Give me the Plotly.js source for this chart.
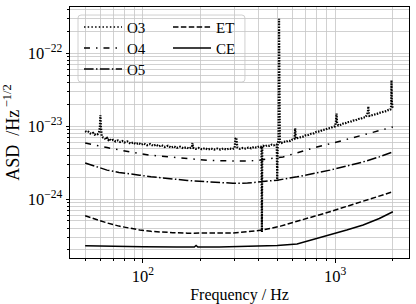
<!DOCTYPE html>
<html>
<head>
<meta charset="utf-8">
<script src="https://cdn.plot.ly/plotly-3.0.1.min.js"></script>
<style>html,body{margin:0;padding:0;background:#fff;}#chart{width:416px;height:304px;}</style>
</head>
<body>
<div id="chart"></div>
<script>
// ---- data (ASD values; O3/O4/O5 in units of 1e-24, ET/CE in units of 1e-25) ----
const o3Freq = [50,51,52,53,54,55,56,57,58,59,59.6,60,60.4,61,62,63,64,65,66,67,68,70,72,74,76,78,80,83,86,89,92,95,98,101,105,109,113,117,121,125,130,135,140,145,150,156,162,168,174,180,181,182,188,195,202,210,218,226,235,244,253,262,272,282,292,300,303,306,310,320,331,342,354,366,378,390,402,410,414,416,418,422,432,444,456,468,480,490,497,500,503,508,511,513,516,525,540,555,570,585,600,615,620,625,640,660,680,700,725,750,775,800,830,860,890,920,950,980,1000,1010,1018,1025,1040,1070,1100,1130,1160,1200,1240,1280,1320,1360,1400,1440,1470,1485,1490,1495,1510,1550,1600,1650,1700,1750,1800,1850,1900,1940,1960,1967,1975,1990,2000];
const o3Asd = [8.6,8.3,8.4,8.0,7.9,8.1,7.7,7.9,7.8,8.2,9.5,14.2,9.8,7.3,7.0,6.9,6.6,6.9,6.5,6.8,6.4,6.5,6.2,6.4,6.1,6.3,6.0,6.2,5.8,6.0,5.7,5.9,5.6,5.8,5.5,5.7,5.4,5.6,5.3,5.5,5.2,5.4,5.1,5.3,5.05,5.25,5.0,5.15,4.95,5.2,5.9,5.1,4.9,5.05,4.85,5.0,4.8,4.95,4.8,4.95,4.8,4.95,4.8,4.95,4.85,5.0,6.8,7.0,5.1,4.9,5.05,4.95,5.1,5.0,5.2,5.1,5.3,5.2,5.3,0.353,5.3,5.4,5.3,5.5,5.4,5.6,5.5,5.7,5.6,1.77,5.8,6.5,300,7.5,6.0,5.9,6.15,6.1,6.35,6.3,6.6,6.7,9.4,6.8,6.9,7.1,7.2,7.5,7.6,7.9,8.0,8.4,8.5,8.9,9.0,9.4,9.5,9.9,10.0,11.5,15.0,11.0,10.3,10.5,10.9,11.0,11.4,11.5,12.0,12.1,12.6,12.7,13.2,13.3,14.5,16.5,18.8,15.5,13.9,14.1,14.6,14.8,15.3,15.5,16.0,16.2,16.8,17.0,19.0,43,22,18.5,18.0];

const o4Freq = [50,57,65,75,85,96,110,125,143,170,215,250,294,350,400,460,536,650,804,1000,1200,1500,1866,2000];
const o4Asd  = [5.9,5.45,5.1,4.75,4.45,4.22,4.0,3.88,3.78,3.58,3.42,3.36,3.32,3.33,3.42,3.58,3.8,4.4,5.2,6.0,6.8,7.9,9.3,9.8];

const o5Freq = [50,57,65,75,85,96,110,125,143,170,215,250,294,350,420,500,634,780,940,1150,1400,1700,2000];
const o5Asd  = [3.14,2.8,2.5,2.32,2.2,2.13,2.03,1.95,1.88,1.8,1.73,1.68,1.65,1.66,1.72,1.82,2.02,2.25,2.5,2.85,3.24,3.8,4.45];

const etFreq = [50,57,65,75,85,96,110,125,143,170,215,250,294,350,421,520,634,780,940,1150,1400,1700,2000];
const etAsd  = [5.9,5.2,4.7,4.25,3.95,3.76,3.6,3.5,3.45,3.4,3.38,3.38,3.42,3.55,3.76,4.25,4.9,5.8,6.7,7.9,9.2,10.8,12.6];

const ceFreq = [50,70,100,150,185,189,193,250,300,400,500,634,800,940,1150,1400,1700,2000];
const ceAsd  = [2.29,2.24,2.21,2.19,2.19,2.3,2.19,2.2,2.22,2.25,2.3,2.42,2.85,3.2,3.75,4.4,5.4,6.7];

const seriesNames = ['O3','O4','O5','ET','CE'];
const xTickVals = [100,1000];
const xTickText = ['10<sup>2</sup>','10<sup>3</sup>'];
const xMinorVals = [50,60,70,80,90,200,300,400,500,600,700,800,900,2000];
const yTickVals = [1e-24,1e-23,1e-22];
const yTickText = ['10<sup>−24</sup>','10<sup>−23</sup>','10<sup>−22</sup>'];
const yMinorVals = [2e-25,3e-25,4e-25,5e-25,6e-25,7e-25,8e-25,9e-25,2e-24,3e-24,4e-24,5e-24,6e-24,7e-24,8e-24,9e-24,2e-23,3e-23,4e-23,5e-23,6e-23,7e-23,8e-23,9e-23,2e-22,3e-22,4e-22,5e-22];

// ---- build ----
const s24 = a => a.map(v => v * 1e-24);
const s25 = a => a.map(v => v * 1e-25);
const FONT = '"Liberation Serif", "Times New Roman", serif';
const lw = 1.5;

const traces = [
  // O3 data (dense noisy curve, drawn heavier), legend entry drawn thin like the reference key
  {x: o3Freq, y: s24(o3Asd), name: seriesNames[0], showlegend: false, line: {color:'#000', width: 2.2, dash: '1.5px,1.3px'}},
  {x: [null], y: [null], name: seriesNames[0], legend: 'legend', line: {color:'#000', width: lw, dash: '1.5px,2.2px'}},
  {x: o4Freq, y: s24(o4Asd), name: seriesNames[1], legend: 'legend2', line: {color:'#000', width: lw, dash: '6px,6px,1.5px,6px'}},
  {x: o5Freq, y: s24(o5Asd), name: seriesNames[2], legend: 'legend3', line: {color:'#000', width: lw, dash: '9.6px,2.4px,1.5px,2.4px'}},
  {x: etFreq, y: s25(etAsd), name: seriesNames[3], legend: 'legend4', line: {color:'#000', width: lw, dash: '5.5px,2.4px'}},
  {x: ceFreq, y: s25(ceAsd), name: seriesNames[4], legend: 'legend5', line: {color:'#000', width: lw}}
].map(t => Object.assign({type: 'scatter', mode: 'lines', hoverinfo: 'skip'}, t));

const gridCol = '#c6c6c6';
const axisCommon = {
  type: 'log', showline: true, mirror: true, linecolor: '#000', linewidth: 1,
  ticks: 'outside', ticklen: 3.5, tickwidth: 1, tickcolor: '#000',
  showgrid: true, gridcolor: gridCol, gridwidth: 0.8, zeroline: false,
  tickfont: {family: FONT, size: 16.5, color: '#000'}, tickmode: 'array'
};

const legendCommon = {
  bgcolor: 'rgba(0,0,0,0)', borderwidth: 0, orientation: 'v',
  font: {family: FONT, size: 15, color: '#000'},
  xanchor: 'left', yanchor: 'top', itemwidth: 38, tracegroupgap: 0
};
const col1 = 0.0265, col2 = 0.289;
const row1 = 0.985, row2 = 0.9014, row3 = 0.8177;

const layout = {
  width: 416, height: 304,
  margin: {l: 70, r: 7, t: 7, b: 46},
  paper_bgcolor: '#fff', plot_bgcolor: '#fff',
  showlegend: true,
  xaxis: Object.assign({}, axisCommon, {
    range: [1.620, 3.385], tickvals: xTickVals, ticktext: xTickText,
    minor: {tickmode: 'array', tickvals: xMinorVals, ticks: 'outside', ticklen: 2, tickcolor: '#000', showgrid: true, gridcolor: gridCol, gridwidth: 0.8},
    title: {text: 'Frequency / Hz', font: {family: FONT, size: 16, color: '#000'}, standoff: 5}
  }),
  yaxis: Object.assign({}, axisCommon, {
    range: [-24.81, -21.36], tickvals: yTickVals, ticktext: yTickText,
    minor: {tickmode: 'array', tickvals: yMinorVals, ticks: 'outside', ticklen: 2, tickcolor: '#000', showgrid: true, gridcolor: gridCol, gridwidth: 0.8},
    title: {text: 'ASD\u2002/Hz<sup>\u2009−1/2</sup>', font: {family: FONT, size: 18, color: '#000'}, standoff: 6}
  }),
  legend:  Object.assign({}, legendCommon, {x: col1, y: row1}),
  legend2: Object.assign({}, legendCommon, {x: col1, y: row2}),
  legend3: Object.assign({}, legendCommon, {x: col1, y: row3}),
  legend4: Object.assign({}, legendCommon, {x: col2, y: row1}),
  legend5: Object.assign({}, legendCommon, {x: col2, y: row2}),
  shapes: [{
    type: 'path', xref: 'paper', yref: 'paper', layer: 'between',
    path: 'M 0.0325,0.968 L 0.507,0.968 Q 0.516,0.968 0.516,0.956 L 0.516,0.713 Q 0.516,0.701 0.507,0.701 L 0.0325,0.701 Q 0.0236,0.701 0.0236,0.713 L 0.0236,0.956 Q 0.0236,0.968 0.0325,0.968 Z',
    fillcolor: 'rgba(255,255,255,0.8)', line: {color: '#d0d0d0', width: 1}
  }]
};

Plotly.newPlot('chart', traces, layout, {displayModeBar: false, staticPlot: true});
</script>
</body>
</html>
